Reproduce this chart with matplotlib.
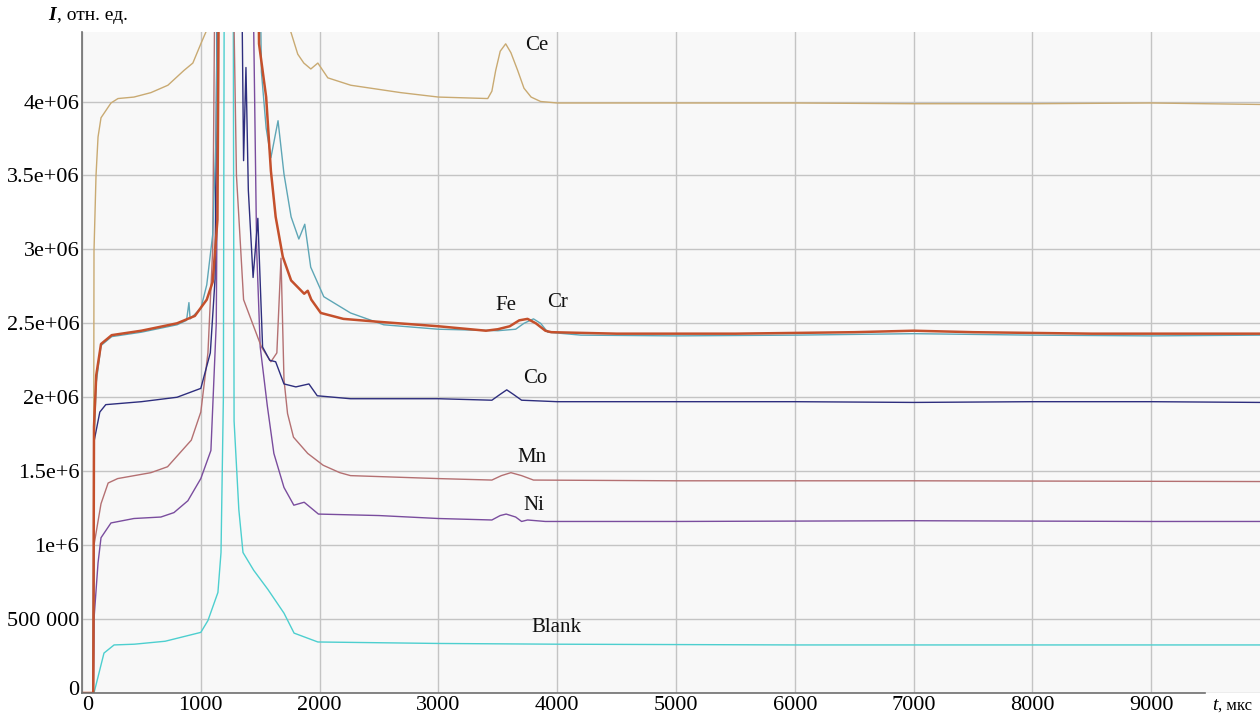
import matplotlib.pyplot as plt
import matplotlib.transforms as mtransforms

plt.rcParams['font.family'] = ['Liberation Serif', 'DejaVu Serif']

# time axis, мкс ; intensity, rel. units
t_ce = [0, 95, 101, 118, 135, 160, 244, 303, 437, 580, 723, 858, 933, 1000, 1043, 1200, 1500, 1758,
        1816, 1867, 1926, 1985, 2069, 2262, 2683, 3000, 3415, 3450, 3482, 3520, 3566, 3610, 3667, 3720,
        3780, 3860, 4000, 5000, 6000, 7000, 8000, 9000, 9915]
i_ce = [0, 0, 2.99e6, 3.5e6, 3.76e6, 3.89e6, 3.99e6, 4.02e6, 4.03e6, 4.06e6, 4.11e6, 4.21e6, 4.26e6,
        4.39e6, 4.47e6, 6.5e6, 6.5e6, 4.47e6, 4.32e6, 4.26e6, 4.22e6, 4.26e6, 4.16e6, 4.11e6, 4.06e6,
        4.03e6, 4.02e6, 4.07e6, 4.21e6, 4.34e6, 4.39e6, 4.33e6, 4.21e6, 4.09e6, 4.03e6, 4.0e6, 3.99e6,
        3.99e6, 3.99e6, 3.985e6, 3.985e6, 3.99e6, 3.98e6]

t_cr = [0, 95, 101, 120, 160, 250, 500, 800, 880, 900, 910, 1000, 1050, 1100, 1130, 1150, 1480, 1510,
        1550, 1590, 1650, 1700, 1760, 1825, 1875, 1925, 2035, 2260, 2540, 3000, 3500, 3650, 3720, 3800,
        3860, 3920, 4200, 5000, 6000, 7000, 8000, 9000, 9915]
i_cr = [0, 0, 1.7e6, 2.1e6, 2.35e6, 2.41e6, 2.44e6, 2.49e6, 2.52e6, 2.64e6, 2.53e6, 2.6e6, 2.76e6,
        3.1e6, 3.8e6, 6e6, 6e6, 4.2e6, 3.82e6, 3.62e6, 3.87e6, 3.51e6, 3.22e6, 3.07e6, 3.17e6, 2.88e6,
        2.68e6, 2.57e6, 2.49e6, 2.46e6, 2.45e6, 2.46e6, 2.5e6, 2.53e6, 2.5e6, 2.44e6, 2.42e6, 2.415e6,
        2.42e6, 2.43e6, 2.42e6, 2.415e6, 2.42e6]

t_fe = [0, 95, 101, 120, 160, 250, 500, 800, 950, 1050, 1100, 1140, 1160, 1470, 1490, 1550, 1590, 1630,
        1690, 1760, 1870, 1900, 1930, 2010, 2200, 2500, 3000, 3400, 3500, 3600, 3680, 3750, 3820, 3900,
        3950, 4500, 5500, 6500, 7000, 7500, 8500, 9915]
i_fe = [0, 0, 1.8e6, 2.15e6, 2.36e6, 2.42e6, 2.45e6, 2.5e6, 2.55e6, 2.66e6, 2.78e6, 3.2e6, 6e6, 6e6,
        4.39e6, 4.03e6, 3.53e6, 3.22e6, 2.95e6, 2.79e6, 2.7e6, 2.72e6, 2.66e6, 2.57e6, 2.53e6, 2.51e6,
        2.48e6, 2.45e6, 2.46e6, 2.48e6, 2.52e6, 2.53e6, 2.5e6, 2.45e6, 2.44e6, 2.43e6, 2.43e6, 2.44e6,
        2.45e6, 2.44e6, 2.43e6, 2.43e6]

t_co = [0, 95, 101, 150, 200, 500, 800, 1000, 1080, 1120, 1150, 1330, 1360, 1380, 1400, 1440, 1480,
        1520, 1580, 1630, 1700, 1800, 1910, 1980, 2260, 3000, 3450, 3520, 3575, 3630, 3700, 4000, 5000,
        6000, 7000, 8000, 9000, 9915]
i_co = [0, 0, 1.7e6, 1.9e6, 1.95e6, 1.97e6, 2.0e6, 2.06e6, 2.3e6, 2.8e6, 6e6, 6e6, 3.6e6, 4.23e6,
        3.4e6, 2.81e6, 3.21e6, 2.34e6, 2.25e6, 2.24e6, 2.09e6, 2.07e6, 2.09e6, 2.01e6, 1.99e6, 1.99e6,
        1.98e6, 2.02e6, 2.05e6, 2.02e6, 1.98e6, 1.97e6, 1.97e6, 1.97e6, 1.965e6, 1.97e6, 1.97e6, 1.965e6]

t_mn = [0, 95, 101, 160, 220, 300, 580, 720, 920, 1000, 1060, 1100, 1130, 1250, 1300, 1360, 1510, 1590,
        1640, 1675, 1700, 1730, 1780, 1900, 2030, 2170, 2260, 3000, 3450, 3530, 3610, 3700, 3800, 5000,
        7000, 9915]
i_mn = [0, 0, 1.0e6, 1.28e6, 1.42e6, 1.45e6, 1.49e6, 1.53e6, 1.71e6, 1.9e6, 2.3e6, 3.0e6, 6e6, 6e6,
        3.5e6, 2.66e6, 2.34e6, 2.24e6, 2.3e6, 2.94e6, 2.12e6, 1.89e6, 1.73e6, 1.62e6, 1.54e6, 1.49e6,
        1.47e6, 1.45e6, 1.44e6, 1.47e6, 1.49e6, 1.47e6, 1.44e6, 1.435e6, 1.435e6, 1.43e6]

t_ni = [0, 95, 101, 135, 160, 244, 437, 664, 774, 891, 1000, 1085, 1130, 1160, 1420, 1470, 1500, 1560,
        1615, 1700, 1783, 1870, 1990, 2500, 3000, 3450, 3520, 3570, 3650, 3700, 3750, 3900, 5000, 7000,
        9000, 9915]
i_ni = [0, 0, 5e5, 8.8e5, 1.05e6, 1.15e6, 1.18e6, 1.19e6, 1.22e6, 1.3e6, 1.45e6, 1.64e6, 2.5e6, 6e6,
        6e6, 3.0e6, 2.34e6, 1.94e6, 1.62e6, 1.39e6, 1.27e6, 1.29e6, 1.21e6, 1.2e6, 1.18e6, 1.17e6,
        1.2e6, 1.21e6, 1.19e6, 1.16e6, 1.17e6, 1.16e6, 1.16e6, 1.165e6, 1.16e6, 1.16e6]

t_bl = [0, 101, 185, 270, 440, 700, 1000, 1060, 1144, 1170, 1190, 1200, 1270, 1280, 1320, 1355, 1445,
        1565, 1700, 1785, 1985, 3000, 4000, 6000, 8000, 9915]
i_bl = [0, 0, 2.7e5, 3.25e5, 3.3e5, 3.5e5, 4.1e5, 4.9e5, 6.8e5, 9.5e5, 2e6, 6e6, 6e6, 1.84e6, 1.24e6,
        9.5e5, 8.3e5, 7.0e5, 5.4e5, 4.05e5, 3.45e5, 3.35e5, 3.3e5, 3.25e5, 3.25e5, 3.25e5]

series = [
    (t_ce, i_ce, '#c9aa72', 1.0),
    (t_bl, i_bl, '#4dcfcf', 1.0),
    (t_ni, i_ni, '#7a4d9e', 1.0),
    (t_mn, i_mn, '#b47072', 1.0),
    (t_co, i_co, '#2e2e7e', 1.0),
    (t_cr, i_cr, '#5ea6b6', 1.0),
    (t_fe, i_fe, '#c4502c', 1.8),
]

labels = ['Ce', 'Fe', 'Cr', 'Co', 'Mn', 'Ni', 'Blank']
label_t = [3830, 3565, 4003, 3818, 3785, 3800, 3990]
label_i = [4.38e6, 2.62e6, 2.64e6, 2.13e6, 1.59e6, 1.27e6, 4.4e5]

y_ticks = [0, 5e5, 1e6, 1.5e6, 2e6, 2.5e6, 3e6, 3.5e6, 4e6]
y_tick_labels = ['0', '500 000', '1e+6', '1.5e+6', '2e+06', '2.5e+06', '3e+06', '3.5e+06', '4e+06']
x_ticks = [0, 1000, 2000, 3000, 4000, 5000, 6000, 7000, 8000, 9000]

fig = plt.figure(figsize=(12.6, 7.19), dpi=100)
ax = fig.add_axes([82 / 1260, 26 / 719, 1 - 82 / 1260, 661 / 719])
ax.set_facecolor('#f8f8f8')

for t, i, color, lw in series:
    ax.plot(t, i, color=color, lw=lw)

for name, tx, iy in zip(labels, label_t, label_i):
    ax.text(tx, iy, name, fontsize=15, ha='center', va='center', color='#111111')

ax.set_xlim(0, 9915)
ax.set_ylim(0, 4.47e6)
ax.set_xticks(x_ticks)
ax.set_xticklabels([str(x) for x in x_ticks], fontsize=16)
ax.set_yticks(y_ticks)
ax.set_yticklabels(y_tick_labels, fontsize=16)
ax.tick_params(length=0, pad=2)
ax.grid(True, color='#c4c4c4', lw=1.0)
ax.set_axisbelow(True)

# nudge the two zero labels apart, as in the original
xl0 = ax.get_xticklabels()[0]
xl0.set_transform(xl0.get_transform() + mtransforms.ScaledTranslation(6 / 100, 0, fig.dpi_scale_trans))
yl0 = ax.get_yticklabels()[0]
yl0.set_transform(yl0.get_transform() + mtransforms.ScaledTranslation(0, 5 / 100, fig.dpi_scale_trans))

for side in ['top', 'right']:
    ax.spines[side].set_visible(False)
ax.spines['left'].set_color('#707070')
ax.spines['bottom'].set_color('#707070')
ax.spines['left'].set_linewidth(1.2)
ax.spines['bottom'].set_linewidth(1.2)
ax.spines['bottom'].set_bounds(0, 9450)

# axis captions
fig.text(48 / 1260, 1 - 15 / 719, 'I', fontsize=14, style='italic', weight='bold', va='center')
fig.text(57 / 1260, 1 - 15 / 719, ', отн. ед.', fontsize=14, va='center')
fig.text(1212 / 1260, 1 - 706 / 719, 't', fontsize=14, style='italic', va='center')
fig.text(1218 / 1260, 1 - 706 / 719, ', мкс', fontsize=12, va='center')

fig.savefig('out.png', dpi=100)
